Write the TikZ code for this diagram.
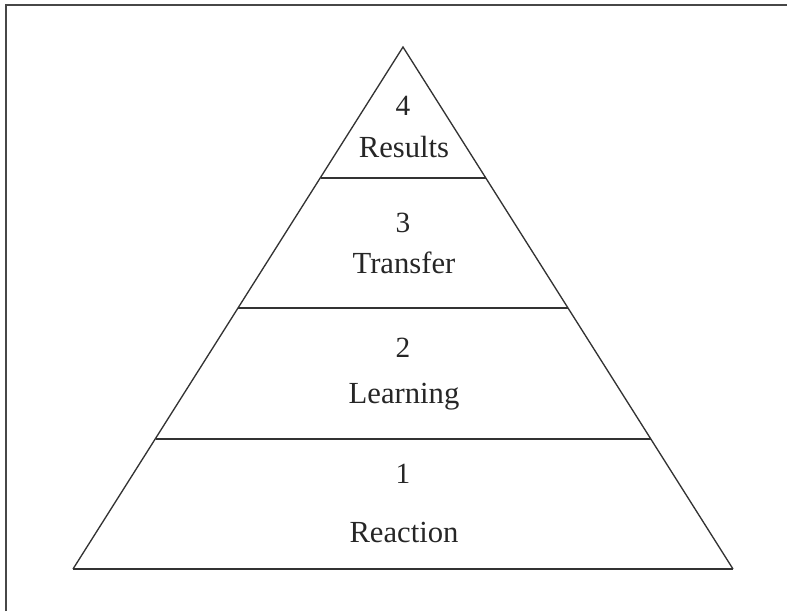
\documentclass[tikz,border=0pt]{standalone}
\usepackage{fontspec}
\setmainfont{Liberation Serif}
\usetikzlibrary{calc}

\begin{document}
\begin{tikzpicture}[x=0.75pt, y=-0.75pt]
    \useasboundingbox (0,0) rectangle (787,611);

    % Frame, only top and left edges show
    \draw[line width=1.6pt, black!72] (6,611) -- (6,5) -- (787,5);

    % Corners of the pyramid
    \coordinate (apex) at (403,47);
    \coordinate (bl) at (73,569);
    \coordinate (br) at (733,569);
    \draw[line width=1pt, black!80] (bl) -- (apex) -- (br);
    \draw[line width=1.5pt, black!80] (bl) -- (br);

    % Level separators at quarter heights
    \foreach \i/\t in {1/0.25, 2/0.5, 3/0.75} {
      \coordinate (s\i) at ($(apex)!\t!(bl)$);
      \coordinate (e\i) at ($(apex)!\t!(br)$);
      \draw[line width=1.5pt, black!80] (s\i) -- (e\i);
    }

    % Level numbers and names
    \foreach \k/\name/\ya/\yb in {4/Results/115/157, 3/Transfer/232/273, 2/Learning/357/403, 1/Reaction/483/542} {
      \node[anchor=base, inner sep=0pt, font=\fontsize{22}{26}\selectfont, text=black!85] (n\k) at (403,\ya) {\k};
      \node[anchor=base, inner sep=0pt, font=\fontsize{23}{27}\selectfont, text=black!85] (l\k) at (404,\yb) {\name};
    }

\end{tikzpicture}
\end{document}
